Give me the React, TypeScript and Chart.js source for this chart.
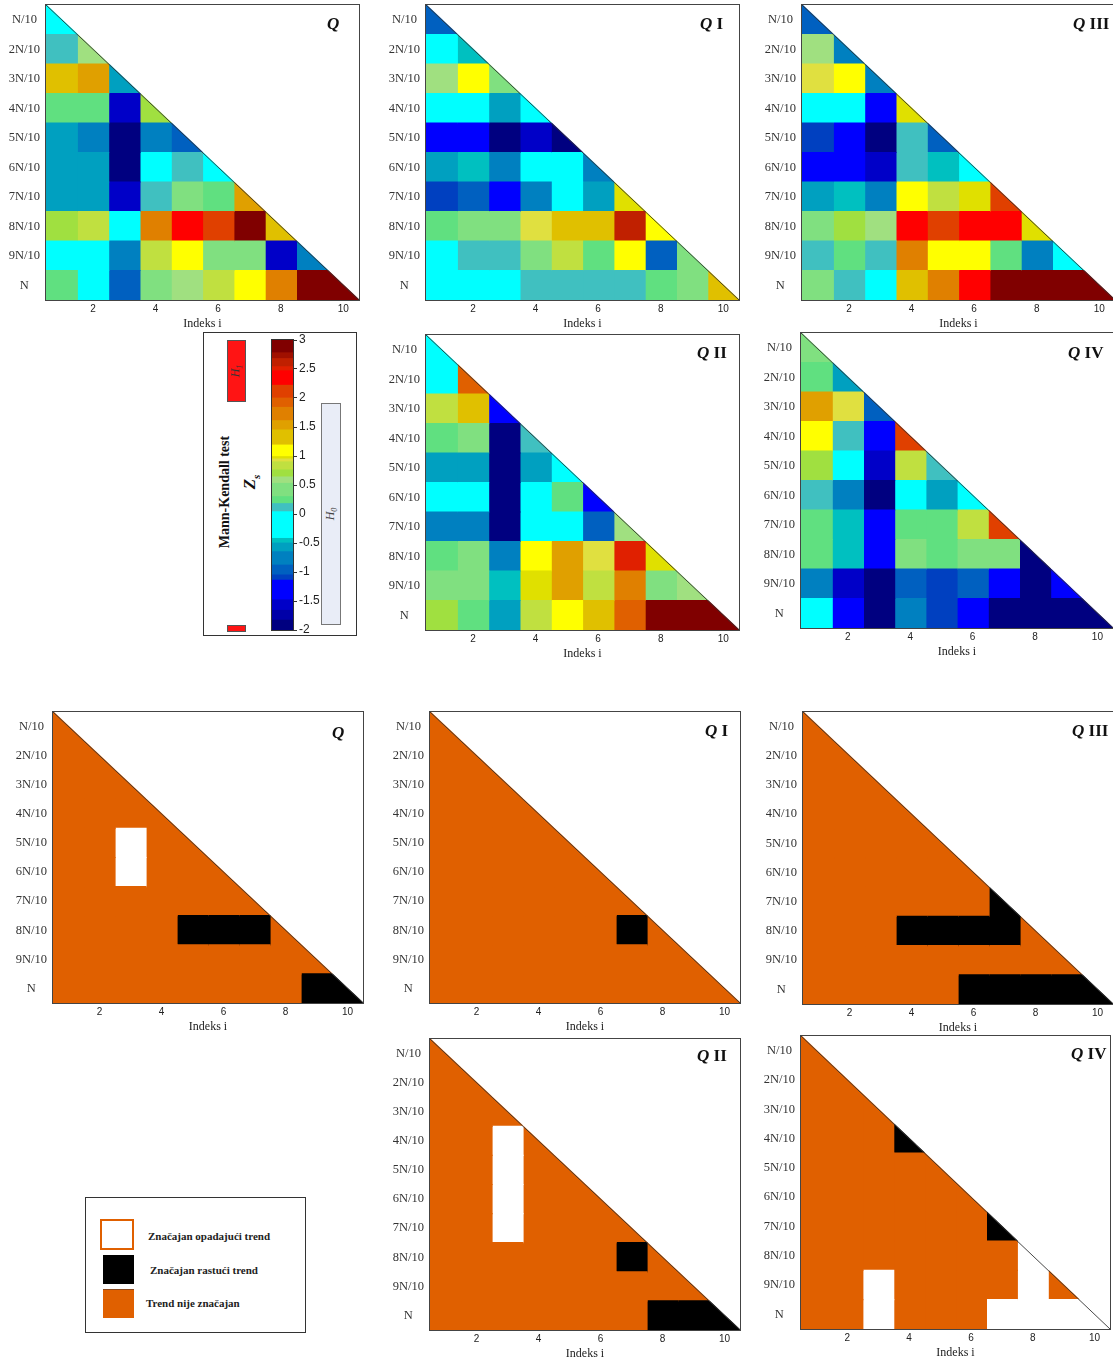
import React, { useEffect, useRef } from 'react';
import { Chart, registerables } from 'chart.js';

Chart.register(...registerables);

// ---------- data ----------
const ROW_LABELS = ['N/10', '2N/10', '3N/10', '4N/10', '5N/10', '6N/10', '7N/10', '8N/10', '9N/10', 'N'];
const COLUMNS = [1, 2, 3, 4, 5, 6, 7, 8, 9, 10];
const X_TICKS = [2, 4, 6, 8, 10];
const CB_TICKS = [-2, -1.5, -1, -0.5, 0, 0.5, 1, 1.5, 2, 2.5, 3];

// Mann-Kendall Zs, row j (j = 1..10) holds columns i = 1..j
const Z_Q = [
  [-0.2],
  [0.1, 0.58],
  [1.3, 1.53, -0.58],
  [0.24, 0.24, -1.57, 0.7],
  [-0.58, -0.76, -1.9, -0.76, -0.96],
  [-0.58, -0.58, -1.9, -0.2, 0.1, -0.2],
  [-0.58, -0.58, -1.57, 0.1, 0.4, 0.24, 1.53],
  [0.7, 0.83, -0.2, 1.72, 2.35, 2.1, 2.9, 1.3],
  [-0.2, -0.2, -0.76, 0.83, 1.1, 0.4, 0.4, -1.57, -0.76],
  [0.24, -0.2, -0.96, 0.4, 0.58, 0.83, 1.1, 1.72, 2.9, 2.9],
];
const Z_QI = [
  [-0.96],
  [-0.2, -0.46],
  [0.58, 1.1, 0.4],
  [-0.2, -0.2, -0.58, -0.2],
  [-1.3, -1.3, -1.9, -1.57, -1.9],
  [-0.58, -0.46, -0.76, -0.2, -0.2, -0.76],
  [-1.1, -0.96, -1.3, -0.76, -0.2, -0.58, 0.97],
  [0.24, 0.4, 0.4, 0.92, 1.3, 1.3, 2.6, 1.1],
  [-0.2, 0.1, 0.1, 0.4, 0.83, 0.24, 1.1, -0.96, 0.4],
  [-0.2, -0.2, -0.2, 0.1, 0.1, 0.1, 0.1, 0.24, 0.4, 1.3],
];
const Z_QIII = [
  [-0.96],
  [0.58, -0.76],
  [0.92, 1.1, -0.76],
  [-0.2, -0.2, -1.3, 0.97],
  [-1.1, -1.3, -1.9, 0.1, -0.96],
  [-1.3, -1.3, -1.57, 0.1, -0.46, -0.2],
  [-0.58, -0.46, -0.76, 1.1, 0.83, 0.97, 2.1],
  [0.4, 0.7, 0.58, 2.35, 2.1, 2.35, 2.35, 0.97],
  [0.1, 0.24, 0.1, 1.72, 1.1, 1.1, 0.24, -0.76, -0.2],
  [0.4, 0.1, -0.2, 1.3, 1.72, 2.35, 2.9, 2.9, 2.9, 2.9],
];
const Z_QII = [
  [-0.2],
  [-0.2, 1.92],
  [0.83, 1.3, -1.3],
  [0.24, 0.4, -1.9, 0.1],
  [-0.58, -0.58, -1.9, -0.58, -0.2],
  [-0.2, -0.2, -1.9, -0.2, 0.24, -1.3],
  [-0.76, -0.76, -1.9, -0.2, -0.2, -0.96, 0.58],
  [0.24, 0.4, -0.76, 1.1, 1.53, 0.92, 2.5, 0.97],
  [0.4, 0.4, -0.46, 0.97, 1.53, 0.83, 1.72, 0.4, 0.58],
  [0.7, 0.24, -0.58, 0.83, 1.1, 1.3, 1.92, 2.9, 2.9, 2.9],
];
const Z_QIV = [
  [0.4],
  [0.24, -0.58],
  [1.53, 0.92, -0.96],
  [1.1, 0.1, -1.3, 2.1],
  [0.7, -0.2, -1.57, 0.83, 0.1],
  [0.1, -0.76, -1.9, -0.2, -0.58, -0.2],
  [0.24, -0.46, -1.3, 0.24, 0.24, 0.83, 2.1],
  [0.24, -0.46, -1.3, 0.4, 0.24, 0.4, 0.4, -1.9],
  [-0.76, -1.57, -1.9, -0.96, -1.1, -0.96, -1.3, -1.9, -1.3],
  [-0.2, -1.3, -1.9, -0.76, -1.1, -1.3, -1.9, -1.9, -1.9, -1.9],
];

// significance: 1 = significant rising, -1 = significant falling, 0 = not significant
const SIG_Q = [
  [0],
  [0, 0],
  [0, 0, 0],
  [0, 0, 0, 0],
  [0, 0, -1, 0, 0],
  [0, 0, -1, 0, 0, 0],
  [0, 0, 0, 0, 0, 0, 0],
  [0, 0, 0, 0, 1, 1, 1, 0],
  [0, 0, 0, 0, 0, 0, 0, 0, 0],
  [0, 0, 0, 0, 0, 0, 0, 0, 1, 1],
];
const SIG_QI = [
  [0],
  [0, 0],
  [0, 0, 0],
  [0, 0, 0, 0],
  [0, 0, 0, 0, 0],
  [0, 0, 0, 0, 0, 0],
  [0, 0, 0, 0, 0, 0, 0],
  [0, 0, 0, 0, 0, 0, 1, 0],
  [0, 0, 0, 0, 0, 0, 0, 0, 0],
  [0, 0, 0, 0, 0, 0, 0, 0, 0, 0],
];
const SIG_QIII = [
  [0],
  [0, 0],
  [0, 0, 0],
  [0, 0, 0, 0],
  [0, 0, 0, 0, 0],
  [0, 0, 0, 0, 0, 0],
  [0, 0, 0, 0, 0, 0, 1],
  [0, 0, 0, 1, 1, 1, 1, 0],
  [0, 0, 0, 0, 0, 0, 0, 0, 0],
  [0, 0, 0, 0, 0, 1, 1, 1, 1, 1],
];
const SIG_QII = [
  [0],
  [0, 0],
  [0, 0, 0],
  [0, 0, -1, 0],
  [0, 0, -1, 0, 0],
  [0, 0, -1, 0, 0, 0],
  [0, 0, -1, 0, 0, 0, 0],
  [0, 0, 0, 0, 0, 0, 1, 0],
  [0, 0, 0, 0, 0, 0, 0, 0, 0],
  [0, 0, 0, 0, 0, 0, 0, 1, 1, 1],
];
const SIG_QIV = [
  [0],
  [0, 0],
  [0, 0, 0],
  [0, 0, 0, 1],
  [0, 0, 0, 0, 0],
  [0, 0, 0, 0, 0, 0],
  [0, 0, 0, 0, 0, 0, 1],
  [0, 0, 0, 0, 0, 0, 0, -1],
  [0, 0, -1, 0, 0, 0, 0, -1, 0],
  [0, 0, -1, 0, 0, 0, -1, -1, -1, -1],
];

// colour scale (band edges of the colour bar)
const LEVEL_EDGES = [-2, -1.83, -1.66, -1.48, -1.14, -1.05, -0.88, -0.65, -0.5, -0.42, 0.04, 0.18, 0.3, 0.53, 0.64, 0.76, 0.9, 0.95, 0.99, 1.19, 1.45, 1.61, 1.84, 2.0, 2.22, 2.47, 2.54, 2.68, 2.78, 3];
const LEVEL_COLORS = ['#000080', '#0000A8', '#0000C8', '#0000FF', '#0040C0', '#0060C0', '#0080C0', '#00A0C0', '#00C0C0', '#00FFFF', '#40C0C0', '#60E080', '#80E080', '#A0E080', '#A0E040', '#C0E040', '#E0E040', '#E0E000', '#FFFF00', '#E0C000', '#E0A000', '#E08000', '#E06000', '#E04000', '#FF0000', '#E02000', '#C02000', '#A01000', '#800000'];
const SIG_COLORS = { falling: '#FFFFFF', none: '#E06000', rising: '#000000' };

const SERIF = "'Liberation Serif', 'Times New Roman', serif";
const SANS = "'Liberation Sans', Arial, sans-serif";

function zColor(z: number): string {
  for (let i = 0; i < LEVEL_COLORS.length; i++) {
    if (z < LEVEL_EDGES[i + 1]) return LEVEL_COLORS[i];
  }
  return LEVEL_COLORS[LEVEL_COLORS.length - 1];
}
function sigColor(s: number): string {
  return s > 0 ? SIG_COLORS.rising : s < 0 ? SIG_COLORS.falling : SIG_COLORS.none;
}

// ---------- plugins ----------
const trianglePlugin = {
  id: 'triangleFrame',
  afterDatasetsDraw(chart: any) {
    const { ctx, chartArea: a } = chart;
    const xs = chart.scales.x;
    const x0 = xs.getPixelForValue(0.5);
    const x1 = xs.getPixelForValue(10.5);
    ctx.save();
    ctx.fillStyle = '#ffffff';
    ctx.beginPath();
    ctx.moveTo(x0, a.top - 1);
    ctx.lineTo(x1 + 2, a.top - 1);
    ctx.lineTo(x1 + 2, a.bottom + 1);
    ctx.closePath();
    ctx.fill();
    ctx.strokeStyle = '#333';
    ctx.lineWidth = 0.9;
    ctx.beginPath();
    ctx.moveTo(x0, a.top);
    ctx.lineTo(x1, a.bottom);
    ctx.stroke();
    ctx.lineWidth = 1;
    ctx.strokeStyle = '#444';
    ctx.strokeRect(Math.round(a.left) - 0.5, Math.round(a.top) - 0.5, Math.round(a.right - a.left) + 1, Math.round(a.bottom - a.top) + 1);
    ctx.restore();
  },
};

const boxPlugin = {
  id: 'cbFrame',
  afterDatasetsDraw(chart: any) {
    const { ctx, chartArea: a } = chart;
    ctx.save();
    ctx.strokeStyle = '#333';
    ctx.lineWidth = 1;
    ctx.strokeRect(Math.round(a.left) + 0.5, Math.round(a.top) - 0.5, Math.round(a.right - a.left) - 1, Math.round(a.bottom - a.top) + 1);
    ctx.restore();
  },
};

// ---------- components ----------
type PanelProps = { l: number; t: number; r: number; b: number; rows: number[][]; colorOf: (v: number) => string };

function TrianglePanel({ l, t, r, b, rows, colorOf }: PanelProps) {
  const ref = useRef<HTMLCanvasElement>(null);
  const AX_W = 50;
  const AX_H = 30;
  const PAD_T = 16;
  const PAD_R = 3;
  const width = Math.round(r - l) + AX_W + PAD_R;
  const height = Math.round(b - t) + AX_H + PAD_T;
  useEffect(() => {
    if (!ref.current) return;
    const datasets = COLUMNS.map((col) => ({
      label: 'i = ' + col,
      data: ROW_LABELS.map((_, j) => (col <= j + 1 ? [col - 0.5, col + 0.5] : null)),
      backgroundColor: ROW_LABELS.map((_, j) => (col <= j + 1 ? colorOf(rows[j][col - 1]) : 'rgba(0,0,0,0)')),
      borderWidth: 0,
      inflateAmount: 0.6,
      grouped: false,
      barPercentage: 1,
      categoryPercentage: 1,
    }));
    const chart = new Chart(ref.current, {
      type: 'bar',
      data: { labels: ROW_LABELS, datasets: datasets as any },
      options: {
        indexAxis: 'y',
        animation: false,
        responsive: false,
        devicePixelRatio: 1,
        layout: { padding: { top: PAD_T, right: PAD_R, left: 0, bottom: 0 } },
        plugins: { legend: { display: false }, tooltip: { enabled: false }, title: { display: false } },
        scales: {
          x: {
            type: 'linear',
            min: 0.5,
            max: 10.5,
            afterBuildTicks: (s: any) => {
              s.ticks = X_TICKS.map((v) => ({ value: v }));
            },
            afterFit: (s: any) => {
              s.height = AX_H;
            },
            grid: { display: false, drawTicks: false },
            border: { display: false },
            ticks: { padding: 3, color: '#222', font: { family: SANS, size: 10 }, maxRotation: 0, autoSkip: false },
            title: { display: true, text: 'Indeks i', color: '#222', padding: { top: 0, bottom: 0 }, font: { family: SERIF, size: 12, lineHeight: 1 } },
          },
          y: {
            type: 'category',
            afterFit: (s: any) => {
              s.width = AX_W;
            },
            grid: { display: false, drawTicks: false },
            border: { display: false },
            ticks: { crossAlign: 'center', padding: 6, color: '#333', autoSkip: false, font: { family: SERIF, size: 12.5 } },
          },
        },
      } as any,
      plugins: [trianglePlugin],
    });
    return () => chart.destroy();
  }, [rows, colorOf]);
  return (
    <canvas
      ref={ref}
      width={width}
      height={height}
      style={{ position: 'absolute', left: Math.round(l) - AX_W, top: Math.round(t) - PAD_T, width, height }}
    />
  );
}

function ColorBarChart() {
  const ref = useRef<HTMLCanvasElement>(null);
  const L = 271, T = 340, W = 23, H = 290, AX = 34, PADV = 10;
  useEffect(() => {
    if (!ref.current) return;
    const datasets = LEVEL_COLORS.map((c, i) => ({
      label: 'band ' + i,
      data: [[LEVEL_EDGES[i], LEVEL_EDGES[i + 1]]],
      backgroundColor: c,
      borderWidth: 0,
      inflateAmount: 0.4,
      grouped: false,
      barPercentage: 1,
      categoryPercentage: 1,
    }));
    const chart = new Chart(ref.current, {
      type: 'bar',
      data: { labels: ['Zs'], datasets: datasets as any },
      options: {
        animation: false,
        responsive: false,
        devicePixelRatio: 1,
        layout: { padding: { top: PADV, bottom: PADV, left: 0, right: 0 } },
        plugins: { legend: { display: false }, tooltip: { enabled: false } },
        scales: {
          x: { display: false },
          y: {
            type: 'linear',
            position: 'right',
            min: -2,
            max: 3,
            afterBuildTicks: (s: any) => {
              s.ticks = CB_TICKS.map((v) => ({ value: v }));
            },
            afterFit: (s: any) => {
              s.width = AX;
            },
            grid: { display: true, drawOnChartArea: false, drawTicks: true, tickLength: 3, color: '#333' },
            border: { display: false },
            ticks: { padding: 2, color: '#222', font: { family: SANS, size: 12 }, callback: (v: any) => String(v) },
          },
        },
      } as any,
      plugins: [boxPlugin],
    });
    return () => chart.destroy();
  }, []);
  return (
    <canvas
      ref={ref}
      width={W + AX}
      height={H + 2 * PADV}
      style={{ position: 'absolute', left: L, top: T - PADV, width: W + AX, height: H + 2 * PADV }}
    />
  );
}

const PANELS = [
  { id: 'tQ', l: 46, t: 5, r: 359, b: 300, rows: Z_Q, colorOf: zColor, roman: '', tx: 327, ty: 15 },
  { id: 'tQI', l: 426, t: 5, r: 739, b: 300, rows: Z_QI, colorOf: zColor, roman: 'I', tx: 700, ty: 15 },
  { id: 'tQIII', l: 802, t: 5, r: 1115, b: 300, rows: Z_QIII, colorOf: zColor, roman: 'III', tx: 1073, ty: 15 },
  { id: 'tQII', l: 426, t: 335, r: 739, b: 630, rows: Z_QII, colorOf: zColor, roman: 'II', tx: 697, ty: 344 },
  { id: 'tQIV', l: 801, t: 333, r: 1113, b: 628, rows: Z_QIV, colorOf: zColor, roman: 'IV', tx: 1068, ty: 344 },
  { id: 'bQ', l: 53, t: 712, r: 363, b: 1003, rows: SIG_Q, colorOf: sigColor, roman: '', tx: 332, ty: 724 },
  { id: 'bQI', l: 430, t: 712, r: 740, b: 1003, rows: SIG_QI, colorOf: sigColor, roman: 'I', tx: 705, ty: 722 },
  { id: 'bQIII', l: 803, t: 712, r: 1113, b: 1004, rows: SIG_QIII, colorOf: sigColor, roman: 'III', tx: 1072, ty: 722 },
  { id: 'bQII', l: 430, t: 1039, r: 740, b: 1330, rows: SIG_QII, colorOf: sigColor, roman: 'II', tx: 697, ty: 1047 },
  { id: 'bQIV', l: 801, t: 1036, r: 1110, b: 1329, rows: SIG_QIV, colorOf: sigColor, roman: 'IV', tx: 1071, ty: 1045 },
];

function PanelTitle({ x, y, roman }: { x: number; y: number; roman: string }) {
  return (
    <div style={{ position: 'absolute', left: x, top: y, font: `bold 17px ${SERIF}`, lineHeight: '17px', color: '#111', whiteSpace: 'nowrap' }}>
      <span style={{ fontStyle: 'italic' }}>Q</span>
      {roman ? <span> {roman}</span> : null}
    </div>
  );
}

function Rotated({ cx, cy, children, style }: { cx: number; cy: number; children: any; style: any }) {
  return (
    <div
      style={{
        position: 'absolute',
        left: cx,
        top: cy,
        transform: 'translate(-50%, -50%) rotate(-90deg)',
        whiteSpace: 'nowrap',
        lineHeight: 1,
        ...style,
      }}
    >
      {children}
    </div>
  );
}

function ColorLegend() {
  return (
    <>
      <div style={{ position: 'absolute', left: 203, top: 332, width: 152, height: 302, border: '1.5px solid #333', background: '#fff' }} />
      <div style={{ position: 'absolute', left: 227, top: 340, width: 17, height: 60, background: '#FF1414', border: '1px solid #555' }} />
      <Rotated cx={236} cy={371} style={{ font: `italic 12px ${SERIF}`, color: '#333' }}>
        H<sub style={{ fontSize: 8 }}>1</sub>
      </Rotated>
      <div style={{ position: 'absolute', left: 227, top: 625, width: 17, height: 5, background: '#FF1414', border: '1px solid #555' }} />
      <Rotated cx={225} cy={492} style={{ font: `bold 14px ${SERIF}`, color: '#111' }}>
        Mann-Kendall test
      </Rotated>
      <Rotated cx={251} cy={482} style={{ font: `bold 17px ${SERIF}`, color: '#111' }}>
        <span style={{ fontStyle: 'italic' }}>Z</span>
        <sub style={{ fontSize: 11, fontStyle: 'italic' }}>s</sub>
      </Rotated>
      <div style={{ position: 'absolute', left: 321, top: 403, width: 18, height: 220, background: '#E9EDF7', border: '1px solid #777' }} />
      <Rotated cx={331} cy={514} style={{ font: `italic 12px ${SERIF}`, color: '#444' }}>
        H<sub style={{ fontSize: 8 }}>0</sub>
      </Rotated>
    </>
  );
}

function SigLegend() {
  const text = { position: 'absolute' as const, font: `bold 11px ${SERIF}`, color: '#222', whiteSpace: 'nowrap' as const, lineHeight: '12px' };
  return (
    <>
      <div style={{ position: 'absolute', left: 85, top: 1197, width: 219, height: 134, border: '1.5px solid #333', background: '#fff' }} />
      <div style={{ position: 'absolute', left: 100, top: 1219, width: 30, height: 27, border: `2.5px solid ${SIG_COLORS.none}`, background: SIG_COLORS.falling }} />
      <div style={{ ...text, left: 148, top: 1230 }}>Značajan opadajući trend</div>
      <div style={{ position: 'absolute', left: 103, top: 1255, width: 31, height: 29, background: SIG_COLORS.rising }} />
      <div style={{ ...text, left: 150, top: 1264 }}>Značajan rastući trend</div>
      <div style={{ position: 'absolute', left: 103, top: 1289, width: 31, height: 29, background: SIG_COLORS.none, borderTop: '1px solid #8a4a20', boxSizing: 'border-box' }} />
      <div style={{ ...text, left: 146, top: 1297 }}>Trend nije značajan</div>
    </>
  );
}

export default function App() {
  return (
    <div style={{ position: 'absolute', left: 0, top: 0, width: 1113, height: 1362, overflow: 'hidden', background: '#fff' }}>
      {PANELS.map((p) => (
        <TrianglePanel key={p.id} l={p.l} t={p.t} r={p.r} b={p.b} rows={p.rows} colorOf={p.colorOf} />
      ))}
      {PANELS.map((p) => (
        <PanelTitle key={p.id + '-t'} x={p.tx} y={p.ty} roman={p.roman} />
      ))}
      <ColorLegend />
      <ColorBarChart />
      <SigLegend />
    </div>
  );
}
